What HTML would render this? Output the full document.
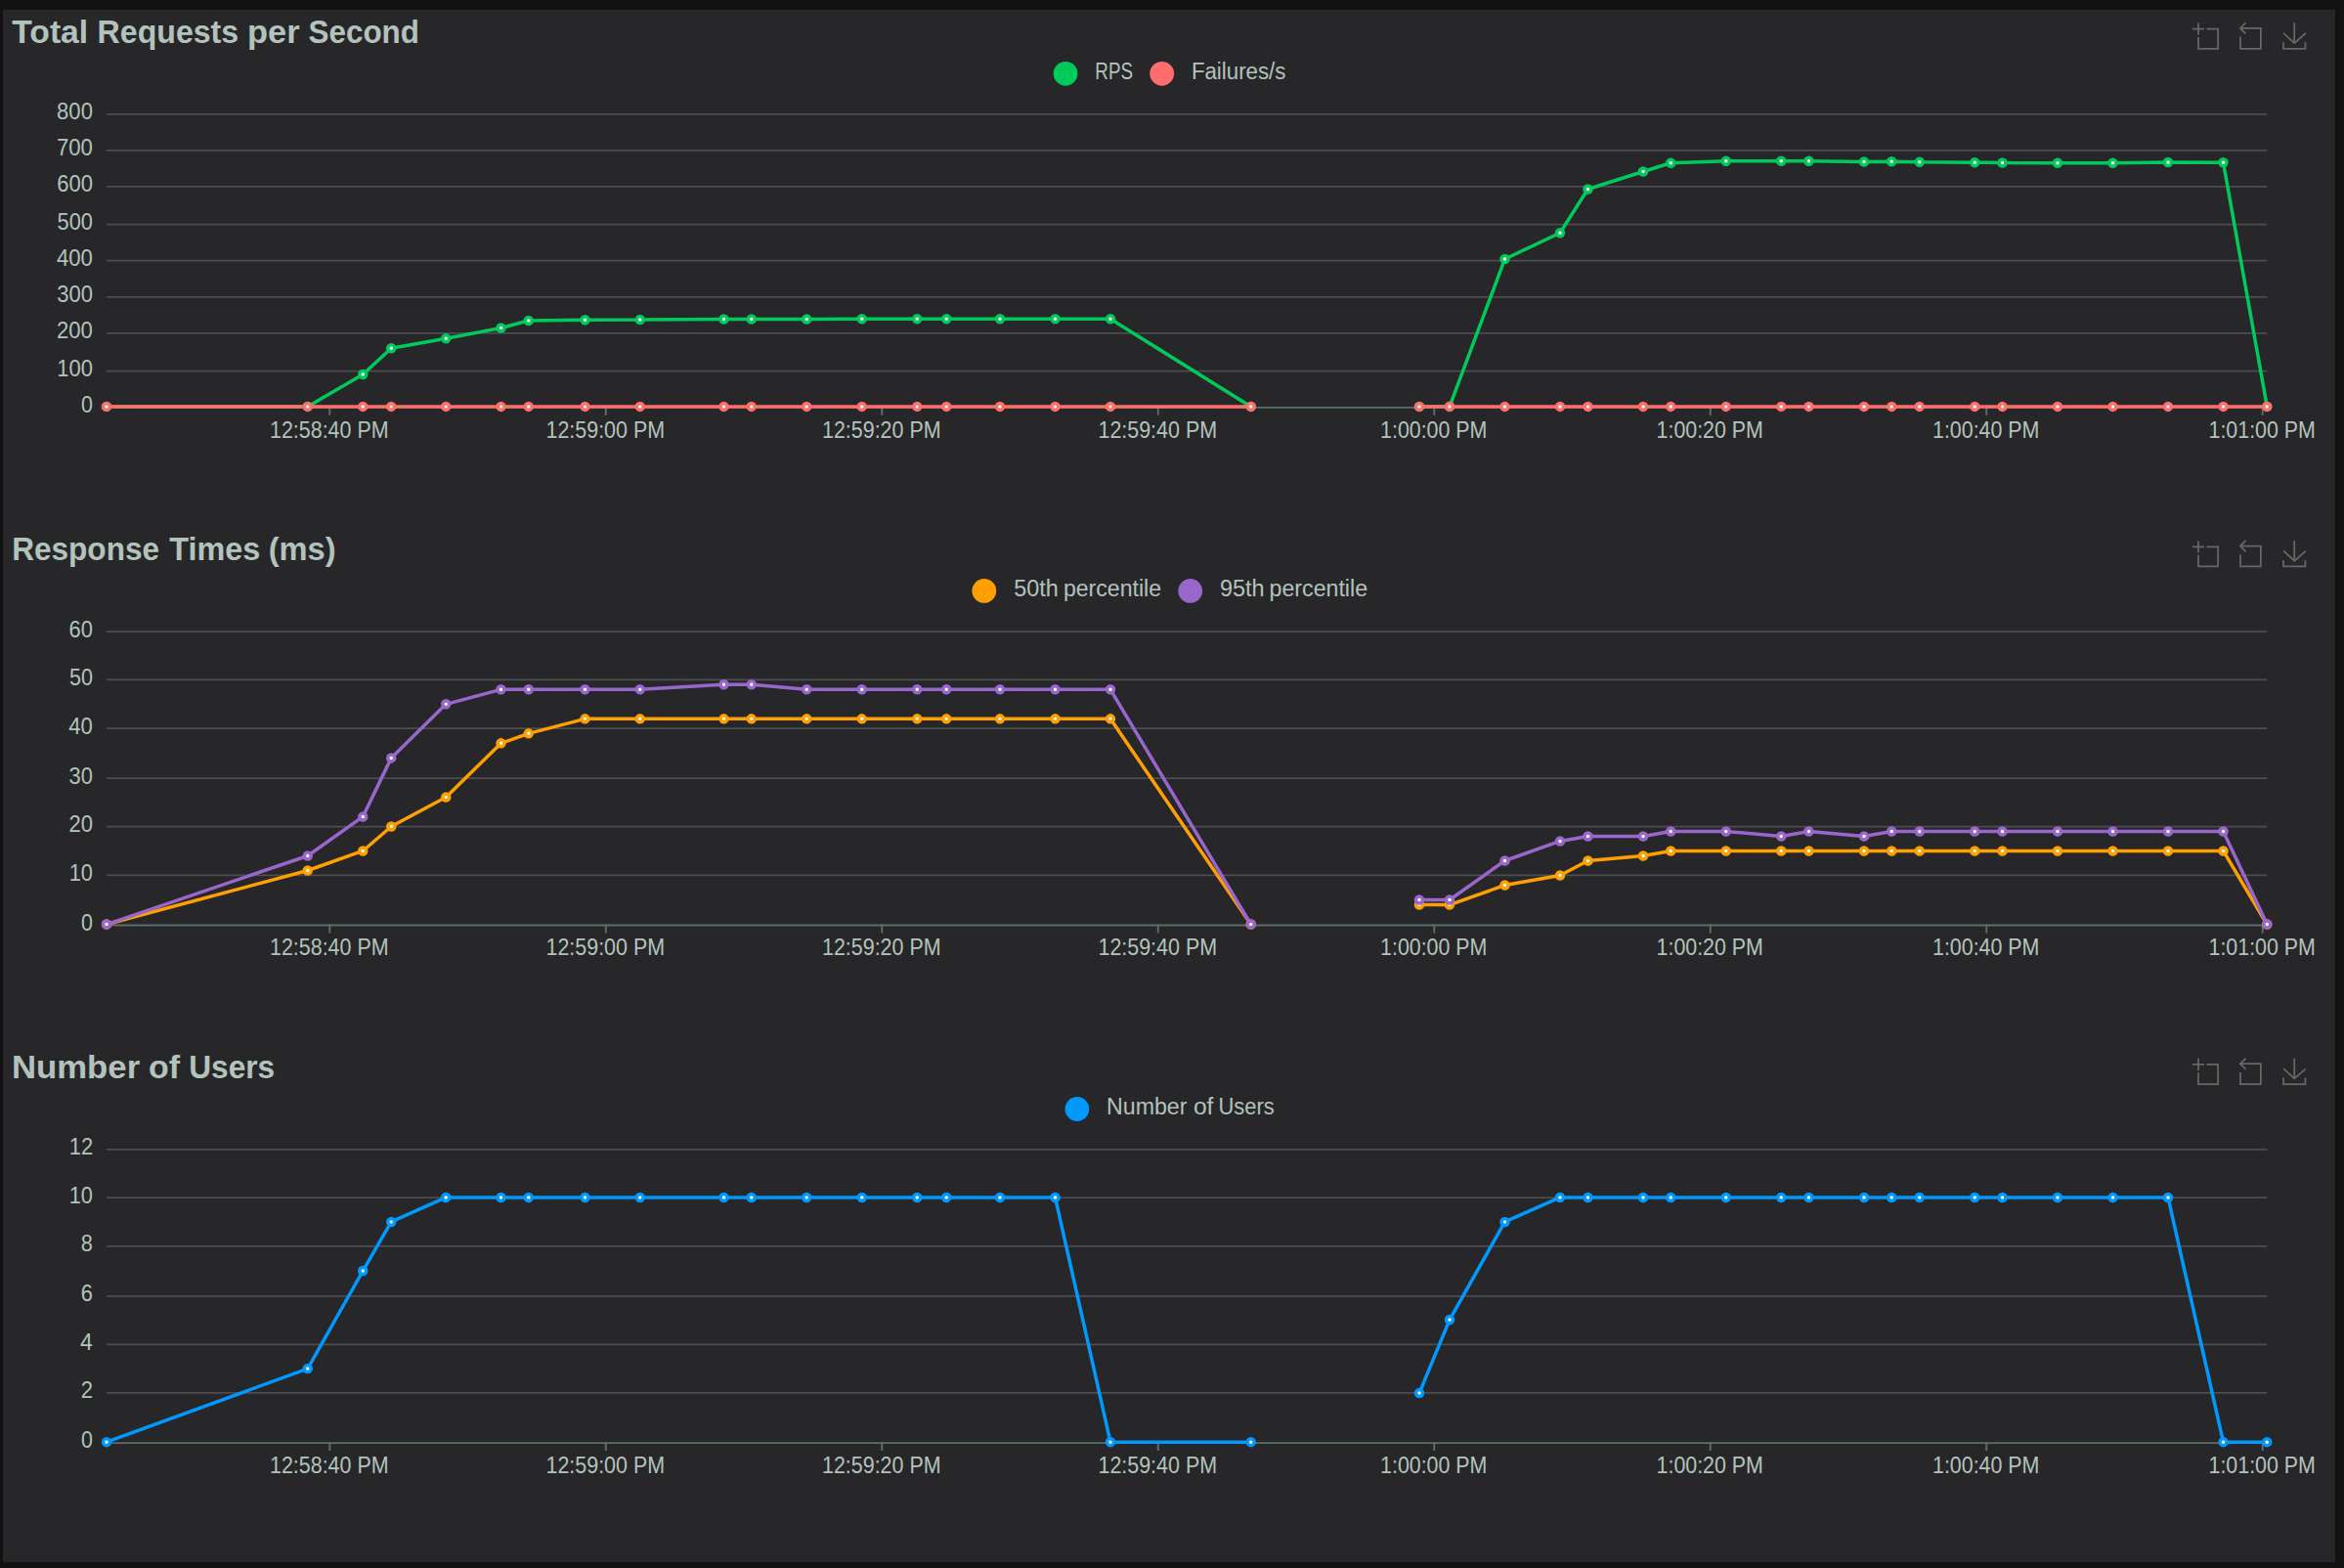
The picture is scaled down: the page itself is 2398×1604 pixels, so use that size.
<!DOCTYPE html>
<html lang="en">
<head>
<meta charset="utf-8">
<title>Locust Charts</title>
<style>
html,body{margin:0;padding:0;background:#121212;}
body{width:2398px;height:1604px;position:relative;}
.panel{position:absolute;left:3px;top:10px;width:2386px;height:1588px;background:#27272a;}
.chart{position:absolute;left:0;width:2386px;margin:0;}
.chart svg{display:block;overflow:visible;}
text{font-family:"Liberation Sans", sans-serif;fill:#b3c3bc;font-size:23.3px;}
.t{font-size:32.7px;font-weight:bold;}
.g{stroke:#4c4c52;stroke-width:1.75;fill:none;}
.a{stroke:#5b6f66;stroke-width:1.9;fill:none;}
.l{fill:none;stroke-width:3.5;stroke-linejoin:bevel;stroke-linecap:butt;}
.p{fill:#fff;stroke-width:3.5;}
.i{fill:none;stroke:#676767;stroke-linecap:butt;stroke-linejoin:miter;}
</style>
</head>
<body>
<main class="panel">
<section class="chart" id="chart1" style="top:0px;height:530px">
<svg width="2386" height="530" viewBox="3 10 2386 530">
<text class="t" y="44.3"><tspan x="12.3" textLength="77.89" lengthAdjust="spacingAndGlyphs">Total</tspan> <tspan x="99.59" textLength="144.61" lengthAdjust="spacingAndGlyphs">Requests</tspan> <tspan x="253.05" textLength="53.54" lengthAdjust="spacingAndGlyphs">per</tspan> <tspan x="315.61" textLength="113.3" lengthAdjust="spacingAndGlyphs">Second</tspan></text>
<g class="i" transform="translate(2242.85 23.5) scale(0.4526)" stroke-width="3.87"><path d="M0,13.5h26.9 M13.5,26.9V0 M32.1,13.5H58V58H13.5 V32.1"/></g>
<g class="i" transform="translate(2287.18 22.6) scale(0.468)" stroke-width="3.74"><path d="M22,1.4L9.9,13.5l12.3,12.3 M10.3,13.5H54.9v44.6 H10.3v-26"/></g>
<g class="i" transform="translate(2333.9 23.35) scale(0.456)" stroke-width="3.84"><path d="M4.7,22.9L29.3,45.5L54.7,23.4M4.6,43.6L4.6,58L53.8,58L53.8,43.6M29.2,45.1L29.2,0"/></g>
<circle cx="1090.1" cy="75.3" r="12.4" fill="#00ca5a"/>
<text y="80.6"><tspan x="1120.37" textLength="38.67" lengthAdjust="spacingAndGlyphs">RPS</tspan></text>
<circle cx="1188.7" cy="75.3" r="12.4" fill="#ff6d6d"/>
<text y="80.6"><tspan x="1218.88" textLength="96.53" lengthAdjust="spacingAndGlyphs">Failures/s</tspan></text>
<path class="g" d="M109 116.75H2319.25M109 153.75H2319.25M109 190.75H2319.25M109 229.5H2319.25M109 266.5H2319.25M109 303.75H2319.25M109 340.75H2319.25M109 379.5H2319.25"/>
<path class="a" d="M109 416.9H2319.25"/>
<path class="a" d="M337.3 416v8.8M619.79 416v8.8M902.28 416v8.8M1184.77 416v8.8M1467.26 416v8.8M1749.75 416v8.8M2032.24 416v8.8M2314.73 416v8.8"/>
<text x="58.12" y="122.45" textLength="36.79" lengthAdjust="spacingAndGlyphs">800</text>
<text x="57.91" y="159.45" textLength="37" lengthAdjust="spacingAndGlyphs">700</text>
<text x="58.13" y="196.45" textLength="36.79" lengthAdjust="spacingAndGlyphs">600</text>
<text x="58.53" y="235.2" textLength="36.37" lengthAdjust="spacingAndGlyphs">500</text>
<text x="57.97" y="272.2" textLength="36.94" lengthAdjust="spacingAndGlyphs">400</text>
<text x="58.21" y="309.45" textLength="36.7" lengthAdjust="spacingAndGlyphs">300</text>
<text x="58.02" y="346.45" textLength="36.89" lengthAdjust="spacingAndGlyphs">200</text>
<text x="58.29" y="385.2" textLength="36.62" lengthAdjust="spacingAndGlyphs">100</text>
<text x="82.97" y="422.2" textLength="11.92" lengthAdjust="spacingAndGlyphs">0</text>
<text x="275.99" y="447.6" textLength="121.62" lengthAdjust="spacingAndGlyphs">12:58:40 PM</text>
<text x="558.48" y="447.6" textLength="121.62" lengthAdjust="spacingAndGlyphs">12:59:00 PM</text>
<text x="840.97" y="447.6" textLength="121.62" lengthAdjust="spacingAndGlyphs">12:59:20 PM</text>
<text x="1123.46" y="447.6" textLength="121.62" lengthAdjust="spacingAndGlyphs">12:59:40 PM</text>
<text x="1412.06" y="447.6" textLength="109.4" lengthAdjust="spacingAndGlyphs">1:00:00 PM</text>
<text x="1694.55" y="447.6" textLength="109.4" lengthAdjust="spacingAndGlyphs">1:00:20 PM</text>
<text x="1977.04" y="447.6" textLength="109.4" lengthAdjust="spacingAndGlyphs">1:00:40 PM</text>
<text x="2259.53" y="447.6" textLength="109.4" lengthAdjust="spacingAndGlyphs">1:01:00 PM</text>
<polyline class="l" stroke="#00ca5a" points="109,415.9 314.75,415.9 371.25,383 400.25,356.25 456.25,346.25 512.5,335.5 540.75,328 598.5,327.25 654.75,327 740.5,326.5 768.75,326.5 825.25,326.5 881.75,326.25 938.25,326.25 968.25,326.25 1023,326.25 1079.5,326.25 1136,326.25 1279.75,415.9"/>
<polyline class="l" stroke="#00ca5a" points="1452,415.9 1483,415.9 1539.5,265 1596,238.25 1624.5,193.5 1681,175.5 1709.25,166.75 1765.75,164.75 1822.25,164.75 1850.5,164.75 1907,165.5 1935.25,165.25 1963.75,165.75 2020.25,166.25 2048.5,166.5 2105,166.75 2161.5,166.75 2218,166 2274.5,166.25 2319.25,415.9"/>
<polyline class="l" stroke="#ff6d6d" points="109,415.9 314.75,415.9 371.25,415.9 400.25,415.9 456.25,415.9 512.5,415.9 540.75,415.9 598.5,415.9 654.75,415.9 740.5,415.9 768.75,415.9 825.25,415.9 881.75,415.9 938.25,415.9 968.25,415.9 1023,415.9 1079.5,415.9 1136,415.9 1279.75,415.9"/>
<polyline class="l" stroke="#ff6d6d" points="1452,415.9 1483,415.9 1539.5,415.9 1596,415.9 1624.5,415.9 1681,415.9 1709.25,415.9 1765.75,415.9 1822.25,415.9 1850.5,415.9 1907,415.9 1935.25,415.9 1963.75,415.9 2020.25,415.9 2048.5,415.9 2105,415.9 2161.5,415.9 2218,415.9 2274.5,415.9 2319.25,415.9"/>
<g class="p" stroke="#00ca5a"><circle cx="109" cy="415.9" r="3.5"/><circle cx="314.75" cy="415.9" r="3.5"/><circle cx="371.25" cy="383" r="3.5"/><circle cx="400.25" cy="356.25" r="3.5"/><circle cx="456.25" cy="346.25" r="3.5"/><circle cx="512.5" cy="335.5" r="3.5"/><circle cx="540.75" cy="328" r="3.5"/><circle cx="598.5" cy="327.25" r="3.5"/><circle cx="654.75" cy="327" r="3.5"/><circle cx="740.5" cy="326.5" r="3.5"/><circle cx="768.75" cy="326.5" r="3.5"/><circle cx="825.25" cy="326.5" r="3.5"/><circle cx="881.75" cy="326.25" r="3.5"/><circle cx="938.25" cy="326.25" r="3.5"/><circle cx="968.25" cy="326.25" r="3.5"/><circle cx="1023" cy="326.25" r="3.5"/><circle cx="1079.5" cy="326.25" r="3.5"/><circle cx="1136" cy="326.25" r="3.5"/><circle cx="1279.75" cy="415.9" r="3.5"/><circle cx="1452" cy="415.9" r="3.5"/><circle cx="1483" cy="415.9" r="3.5"/><circle cx="1539.5" cy="265" r="3.5"/><circle cx="1596" cy="238.25" r="3.5"/><circle cx="1624.5" cy="193.5" r="3.5"/><circle cx="1681" cy="175.5" r="3.5"/><circle cx="1709.25" cy="166.75" r="3.5"/><circle cx="1765.75" cy="164.75" r="3.5"/><circle cx="1822.25" cy="164.75" r="3.5"/><circle cx="1850.5" cy="164.75" r="3.5"/><circle cx="1907" cy="165.5" r="3.5"/><circle cx="1935.25" cy="165.25" r="3.5"/><circle cx="1963.75" cy="165.75" r="3.5"/><circle cx="2020.25" cy="166.25" r="3.5"/><circle cx="2048.5" cy="166.5" r="3.5"/><circle cx="2105" cy="166.75" r="3.5"/><circle cx="2161.5" cy="166.75" r="3.5"/><circle cx="2218" cy="166" r="3.5"/><circle cx="2274.5" cy="166.25" r="3.5"/><circle cx="2319.25" cy="415.9" r="3.5"/></g>
<g class="p" stroke="#ff6d6d"><circle cx="109" cy="415.9" r="3.5"/><circle cx="314.75" cy="415.9" r="3.5"/><circle cx="371.25" cy="415.9" r="3.5"/><circle cx="400.25" cy="415.9" r="3.5"/><circle cx="456.25" cy="415.9" r="3.5"/><circle cx="512.5" cy="415.9" r="3.5"/><circle cx="540.75" cy="415.9" r="3.5"/><circle cx="598.5" cy="415.9" r="3.5"/><circle cx="654.75" cy="415.9" r="3.5"/><circle cx="740.5" cy="415.9" r="3.5"/><circle cx="768.75" cy="415.9" r="3.5"/><circle cx="825.25" cy="415.9" r="3.5"/><circle cx="881.75" cy="415.9" r="3.5"/><circle cx="938.25" cy="415.9" r="3.5"/><circle cx="968.25" cy="415.9" r="3.5"/><circle cx="1023" cy="415.9" r="3.5"/><circle cx="1079.5" cy="415.9" r="3.5"/><circle cx="1136" cy="415.9" r="3.5"/><circle cx="1279.75" cy="415.9" r="3.5"/><circle cx="1452" cy="415.9" r="3.5"/><circle cx="1483" cy="415.9" r="3.5"/><circle cx="1539.5" cy="415.9" r="3.5"/><circle cx="1596" cy="415.9" r="3.5"/><circle cx="1624.5" cy="415.9" r="3.5"/><circle cx="1681" cy="415.9" r="3.5"/><circle cx="1709.25" cy="415.9" r="3.5"/><circle cx="1765.75" cy="415.9" r="3.5"/><circle cx="1822.25" cy="415.9" r="3.5"/><circle cx="1850.5" cy="415.9" r="3.5"/><circle cx="1907" cy="415.9" r="3.5"/><circle cx="1935.25" cy="415.9" r="3.5"/><circle cx="1963.75" cy="415.9" r="3.5"/><circle cx="2020.25" cy="415.9" r="3.5"/><circle cx="2048.5" cy="415.9" r="3.5"/><circle cx="2105" cy="415.9" r="3.5"/><circle cx="2161.5" cy="415.9" r="3.5"/><circle cx="2218" cy="415.9" r="3.5"/><circle cx="2274.5" cy="415.9" r="3.5"/><circle cx="2319.25" cy="415.9" r="3.5"/></g>
</svg>
</section>
<section class="chart" id="chart2" style="top:530px;height:529px">
<svg width="2386" height="529" viewBox="3 540 2386 529">
<text class="t" y="572.9"><tspan x="12.13" textLength="150.96" lengthAdjust="spacingAndGlyphs">Response</tspan> <tspan x="173.2" textLength="93.11" lengthAdjust="spacingAndGlyphs">Times</tspan> <tspan x="274.67" textLength="68.91" lengthAdjust="spacingAndGlyphs">(ms)</tspan></text>
<g class="i" transform="translate(2242.85 553.15) scale(0.4526)" stroke-width="3.87"><path d="M0,13.5h26.9 M13.5,26.9V0 M32.1,13.5H58V58H13.5 V32.1"/></g>
<g class="i" transform="translate(2287.18 552.25) scale(0.468)" stroke-width="3.74"><path d="M22,1.4L9.9,13.5l12.3,12.3 M10.3,13.5H54.9v44.6 H10.3v-26"/></g>
<g class="i" transform="translate(2333.9 553) scale(0.456)" stroke-width="3.84"><path d="M4.7,22.9L29.3,45.5L54.7,23.4M4.6,43.6L4.6,58L53.8,58L53.8,43.6M29.2,45.1L29.2,0"/></g>
<circle cx="1006.8" cy="604.4" r="12.4" fill="#ff9f00"/>
<text y="609.7"><tspan x="1037.3" textLength="45.57" lengthAdjust="spacingAndGlyphs">50th</tspan> <tspan x="1087.91" textLength="100.14" lengthAdjust="spacingAndGlyphs">percentile</tspan></text>
<circle cx="1217.7" cy="604.4" r="12.4" fill="#9966cc"/>
<text y="609.7"><tspan x="1247.99" textLength="45.68" lengthAdjust="spacingAndGlyphs">95th</tspan> <tspan x="1298.61" textLength="100.44" lengthAdjust="spacingAndGlyphs">percentile</tspan></text>
<path class="g" d="M109 646H2319.25M109 695.25H2319.25M109 745H2319.25M109 796H2319.25M109 845.5H2319.25M109 895.25H2319.25"/>
<path class="a" d="M109 946.5H2319.25"/>
<path class="a" d="M337.3 945.6v8.8M619.79 945.6v8.8M902.28 945.6v8.8M1184.77 945.6v8.8M1467.26 945.6v8.8M1749.75 945.6v8.8M2032.24 945.6v8.8M2314.73 945.6v8.8"/>
<text x="70.5" y="651.7" textLength="24.41" lengthAdjust="spacingAndGlyphs">60</text>
<text x="70.91" y="700.95" textLength="23.99" lengthAdjust="spacingAndGlyphs">50</text>
<text x="70.34" y="750.7" textLength="24.57" lengthAdjust="spacingAndGlyphs">40</text>
<text x="70.58" y="801.7" textLength="24.33" lengthAdjust="spacingAndGlyphs">30</text>
<text x="70.39" y="851.2" textLength="24.52" lengthAdjust="spacingAndGlyphs">20</text>
<text x="70.67" y="900.95" textLength="24.24" lengthAdjust="spacingAndGlyphs">10</text>
<text x="82.97" y="951.8" textLength="11.92" lengthAdjust="spacingAndGlyphs">0</text>
<text x="275.99" y="977.2" textLength="121.62" lengthAdjust="spacingAndGlyphs">12:58:40 PM</text>
<text x="558.48" y="977.2" textLength="121.62" lengthAdjust="spacingAndGlyphs">12:59:00 PM</text>
<text x="840.97" y="977.2" textLength="121.62" lengthAdjust="spacingAndGlyphs">12:59:20 PM</text>
<text x="1123.46" y="977.2" textLength="121.62" lengthAdjust="spacingAndGlyphs">12:59:40 PM</text>
<text x="1412.06" y="977.2" textLength="109.4" lengthAdjust="spacingAndGlyphs">1:00:00 PM</text>
<text x="1694.55" y="977.2" textLength="109.4" lengthAdjust="spacingAndGlyphs">1:00:20 PM</text>
<text x="1977.04" y="977.2" textLength="109.4" lengthAdjust="spacingAndGlyphs">1:00:40 PM</text>
<text x="2259.53" y="977.2" textLength="109.4" lengthAdjust="spacingAndGlyphs">1:01:00 PM</text>
<polyline class="l" stroke="#ff9f00" points="109,945.55 314.75,890.5 371.25,870.47 400.25,845.45 456.25,815.42 512.5,760.37 540.75,750.36 598.5,735.34 654.75,735.34 740.5,735.34 768.75,735.34 825.25,735.34 881.75,735.34 938.25,735.34 968.25,735.34 1023,735.34 1079.5,735.34 1136,735.34 1279.75,945.55"/>
<polyline class="l" stroke="#ff9f00" points="1452,925.53 1483,925.53 1539.5,905.51 1596,895.5 1624.5,880.48 1681,875.48 1709.25,870.47 1765.75,870.47 1822.25,870.47 1850.5,870.47 1907,870.47 1935.25,870.47 1963.75,870.47 2020.25,870.47 2048.5,870.47 2105,870.47 2161.5,870.47 2218,870.47 2274.5,870.47 2319.25,945.55"/>
<polyline class="l" stroke="#9966cc" points="109,945.55 314.75,875.48 371.25,835.44 400.25,775.38 456.25,720.32 512.5,705.31 540.75,705.31 598.5,705.31 654.75,705.31 740.5,700.3 768.75,700.3 825.25,705.31 881.75,705.31 938.25,705.31 968.25,705.31 1023,705.31 1079.5,705.31 1136,705.31 1279.75,945.55"/>
<polyline class="l" stroke="#9966cc" points="1452,920.52 1483,920.52 1539.5,880.48 1596,860.46 1624.5,855.46 1681,855.46 1709.25,850.45 1765.75,850.45 1822.25,855.46 1850.5,850.45 1907,855.46 1935.25,850.45 1963.75,850.45 2020.25,850.45 2048.5,850.45 2105,850.45 2161.5,850.45 2218,850.45 2274.5,850.45 2319.25,945.55"/>
<g class="p" stroke="#ff9f00"><circle cx="109" cy="945.55" r="3.5"/><circle cx="314.75" cy="890.5" r="3.5"/><circle cx="371.25" cy="870.47" r="3.5"/><circle cx="400.25" cy="845.45" r="3.5"/><circle cx="456.25" cy="815.42" r="3.5"/><circle cx="512.5" cy="760.37" r="3.5"/><circle cx="540.75" cy="750.36" r="3.5"/><circle cx="598.5" cy="735.34" r="3.5"/><circle cx="654.75" cy="735.34" r="3.5"/><circle cx="740.5" cy="735.34" r="3.5"/><circle cx="768.75" cy="735.34" r="3.5"/><circle cx="825.25" cy="735.34" r="3.5"/><circle cx="881.75" cy="735.34" r="3.5"/><circle cx="938.25" cy="735.34" r="3.5"/><circle cx="968.25" cy="735.34" r="3.5"/><circle cx="1023" cy="735.34" r="3.5"/><circle cx="1079.5" cy="735.34" r="3.5"/><circle cx="1136" cy="735.34" r="3.5"/><circle cx="1279.75" cy="945.55" r="3.5"/><circle cx="1452" cy="925.53" r="3.5"/><circle cx="1483" cy="925.53" r="3.5"/><circle cx="1539.5" cy="905.51" r="3.5"/><circle cx="1596" cy="895.5" r="3.5"/><circle cx="1624.5" cy="880.48" r="3.5"/><circle cx="1681" cy="875.48" r="3.5"/><circle cx="1709.25" cy="870.47" r="3.5"/><circle cx="1765.75" cy="870.47" r="3.5"/><circle cx="1822.25" cy="870.47" r="3.5"/><circle cx="1850.5" cy="870.47" r="3.5"/><circle cx="1907" cy="870.47" r="3.5"/><circle cx="1935.25" cy="870.47" r="3.5"/><circle cx="1963.75" cy="870.47" r="3.5"/><circle cx="2020.25" cy="870.47" r="3.5"/><circle cx="2048.5" cy="870.47" r="3.5"/><circle cx="2105" cy="870.47" r="3.5"/><circle cx="2161.5" cy="870.47" r="3.5"/><circle cx="2218" cy="870.47" r="3.5"/><circle cx="2274.5" cy="870.47" r="3.5"/><circle cx="2319.25" cy="945.55" r="3.5"/></g>
<g class="p" stroke="#9966cc"><circle cx="109" cy="945.55" r="3.5"/><circle cx="314.75" cy="875.48" r="3.5"/><circle cx="371.25" cy="835.44" r="3.5"/><circle cx="400.25" cy="775.38" r="3.5"/><circle cx="456.25" cy="720.32" r="3.5"/><circle cx="512.5" cy="705.31" r="3.5"/><circle cx="540.75" cy="705.31" r="3.5"/><circle cx="598.5" cy="705.31" r="3.5"/><circle cx="654.75" cy="705.31" r="3.5"/><circle cx="740.5" cy="700.3" r="3.5"/><circle cx="768.75" cy="700.3" r="3.5"/><circle cx="825.25" cy="705.31" r="3.5"/><circle cx="881.75" cy="705.31" r="3.5"/><circle cx="938.25" cy="705.31" r="3.5"/><circle cx="968.25" cy="705.31" r="3.5"/><circle cx="1023" cy="705.31" r="3.5"/><circle cx="1079.5" cy="705.31" r="3.5"/><circle cx="1136" cy="705.31" r="3.5"/><circle cx="1279.75" cy="945.55" r="3.5"/><circle cx="1452" cy="920.52" r="3.5"/><circle cx="1483" cy="920.52" r="3.5"/><circle cx="1539.5" cy="880.48" r="3.5"/><circle cx="1596" cy="860.46" r="3.5"/><circle cx="1624.5" cy="855.46" r="3.5"/><circle cx="1681" cy="855.46" r="3.5"/><circle cx="1709.25" cy="850.45" r="3.5"/><circle cx="1765.75" cy="850.45" r="3.5"/><circle cx="1822.25" cy="855.46" r="3.5"/><circle cx="1850.5" cy="850.45" r="3.5"/><circle cx="1907" cy="855.46" r="3.5"/><circle cx="1935.25" cy="850.45" r="3.5"/><circle cx="1963.75" cy="850.45" r="3.5"/><circle cx="2020.25" cy="850.45" r="3.5"/><circle cx="2048.5" cy="850.45" r="3.5"/><circle cx="2105" cy="850.45" r="3.5"/><circle cx="2161.5" cy="850.45" r="3.5"/><circle cx="2218" cy="850.45" r="3.5"/><circle cx="2274.5" cy="850.45" r="3.5"/><circle cx="2319.25" cy="945.55" r="3.5"/></g>
</svg>
</section>
<section class="chart" id="chart3" style="top:1059px;height:529px">
<svg width="2386" height="529" viewBox="3 1069 2386 529">
<text class="t" y="1102.9"><tspan x="11.93" textLength="131.26" lengthAdjust="spacingAndGlyphs">Number</tspan> <tspan x="152.04" textLength="32" lengthAdjust="spacingAndGlyphs">of</tspan> <tspan x="193.22" textLength="87.97" lengthAdjust="spacingAndGlyphs">Users</tspan></text>
<g class="i" transform="translate(2242.85 1082.8) scale(0.4526)" stroke-width="3.87"><path d="M0,13.5h26.9 M13.5,26.9V0 M32.1,13.5H58V58H13.5 V32.1"/></g>
<g class="i" transform="translate(2287.18 1081.9) scale(0.468)" stroke-width="3.74"><path d="M22,1.4L9.9,13.5l12.3,12.3 M10.3,13.5H54.9v44.6 H10.3v-26"/></g>
<g class="i" transform="translate(2333.9 1082.65) scale(0.456)" stroke-width="3.84"><path d="M4.7,22.9L29.3,45.5L54.7,23.4M4.6,43.6L4.6,58L53.8,58L53.8,43.6M29.2,45.1L29.2,0"/></g>
<circle cx="1101.9" cy="1134.5" r="12.4" fill="#0099ff"/>
<text y="1139.8"><tspan x="1132.01" textLength="82.45" lengthAdjust="spacingAndGlyphs">Number</tspan> <tspan x="1220.95" textLength="20.52" lengthAdjust="spacingAndGlyphs">of</tspan> <tspan x="1246.5" textLength="57.2" lengthAdjust="spacingAndGlyphs">Users</tspan></text>
<path class="g" d="M109 1175.75H2319.25M109 1225H2319.25M109 1274.75H2319.25M109 1325.75H2319.25M109 1375.25H2319.25M109 1424.75H2319.25"/>
<path class="a" d="M109 1476.1H2319.25"/>
<path class="a" d="M337.3 1475.2v8.8M619.79 1475.2v8.8M902.28 1475.2v8.8M1184.77 1475.2v8.8M1467.26 1475.2v8.8M1749.75 1475.2v8.8M2032.24 1475.2v8.8M2314.73 1475.2v8.8"/>
<text x="70.76" y="1181.45" textLength="24.44" lengthAdjust="spacingAndGlyphs">12</text>
<text x="70.67" y="1230.7" textLength="24.24" lengthAdjust="spacingAndGlyphs">10</text>
<text x="82.86" y="1280.45" textLength="12.13" lengthAdjust="spacingAndGlyphs">8</text>
<text x="82.87" y="1331.45" textLength="12.12" lengthAdjust="spacingAndGlyphs">6</text>
<text x="81.97" y="1380.95" textLength="12.78" lengthAdjust="spacingAndGlyphs">4</text>
<text x="82.85" y="1430.45" textLength="12.35" lengthAdjust="spacingAndGlyphs">2</text>
<text x="82.97" y="1481.4" textLength="11.92" lengthAdjust="spacingAndGlyphs">0</text>
<text x="275.99" y="1506.8" textLength="121.62" lengthAdjust="spacingAndGlyphs">12:58:40 PM</text>
<text x="558.48" y="1506.8" textLength="121.62" lengthAdjust="spacingAndGlyphs">12:59:00 PM</text>
<text x="840.97" y="1506.8" textLength="121.62" lengthAdjust="spacingAndGlyphs">12:59:20 PM</text>
<text x="1123.46" y="1506.8" textLength="121.62" lengthAdjust="spacingAndGlyphs">12:59:40 PM</text>
<text x="1412.06" y="1506.8" textLength="109.4" lengthAdjust="spacingAndGlyphs">1:00:00 PM</text>
<text x="1694.55" y="1506.8" textLength="109.4" lengthAdjust="spacingAndGlyphs">1:00:20 PM</text>
<text x="1977.04" y="1506.8" textLength="109.4" lengthAdjust="spacingAndGlyphs">1:00:40 PM</text>
<text x="2259.53" y="1506.8" textLength="109.4" lengthAdjust="spacingAndGlyphs">1:01:00 PM</text>
<polyline class="l" stroke="#0099ff" points="109,1475.15 314.75,1400.09 371.25,1300.01 400.25,1249.97 456.25,1224.95 512.5,1224.95 540.75,1224.95 598.5,1224.95 654.75,1224.95 740.5,1224.95 768.75,1224.95 825.25,1224.95 881.75,1224.95 938.25,1224.95 968.25,1224.95 1023,1224.95 1079.5,1224.95 1136,1475.15 1279.75,1475.15"/>
<polyline class="l" stroke="#0099ff" points="1452,1425.11 1483,1350.05 1539.5,1249.97 1596,1224.95 1624.5,1224.95 1681,1224.95 1709.25,1224.95 1765.75,1224.95 1822.25,1224.95 1850.5,1224.95 1907,1224.95 1935.25,1224.95 1963.75,1224.95 2020.25,1224.95 2048.5,1224.95 2105,1224.95 2161.5,1224.95 2218,1224.95 2274.5,1475.15 2319.25,1475.15"/>
<g class="p" stroke="#0099ff"><circle cx="109" cy="1475.15" r="3.5"/><circle cx="314.75" cy="1400.09" r="3.5"/><circle cx="371.25" cy="1300.01" r="3.5"/><circle cx="400.25" cy="1249.97" r="3.5"/><circle cx="456.25" cy="1224.95" r="3.5"/><circle cx="512.5" cy="1224.95" r="3.5"/><circle cx="540.75" cy="1224.95" r="3.5"/><circle cx="598.5" cy="1224.95" r="3.5"/><circle cx="654.75" cy="1224.95" r="3.5"/><circle cx="740.5" cy="1224.95" r="3.5"/><circle cx="768.75" cy="1224.95" r="3.5"/><circle cx="825.25" cy="1224.95" r="3.5"/><circle cx="881.75" cy="1224.95" r="3.5"/><circle cx="938.25" cy="1224.95" r="3.5"/><circle cx="968.25" cy="1224.95" r="3.5"/><circle cx="1023" cy="1224.95" r="3.5"/><circle cx="1079.5" cy="1224.95" r="3.5"/><circle cx="1136" cy="1475.15" r="3.5"/><circle cx="1279.75" cy="1475.15" r="3.5"/><circle cx="1452" cy="1425.11" r="3.5"/><circle cx="1483" cy="1350.05" r="3.5"/><circle cx="1539.5" cy="1249.97" r="3.5"/><circle cx="1596" cy="1224.95" r="3.5"/><circle cx="1624.5" cy="1224.95" r="3.5"/><circle cx="1681" cy="1224.95" r="3.5"/><circle cx="1709.25" cy="1224.95" r="3.5"/><circle cx="1765.75" cy="1224.95" r="3.5"/><circle cx="1822.25" cy="1224.95" r="3.5"/><circle cx="1850.5" cy="1224.95" r="3.5"/><circle cx="1907" cy="1224.95" r="3.5"/><circle cx="1935.25" cy="1224.95" r="3.5"/><circle cx="1963.75" cy="1224.95" r="3.5"/><circle cx="2020.25" cy="1224.95" r="3.5"/><circle cx="2048.5" cy="1224.95" r="3.5"/><circle cx="2105" cy="1224.95" r="3.5"/><circle cx="2161.5" cy="1224.95" r="3.5"/><circle cx="2218" cy="1224.95" r="3.5"/><circle cx="2274.5" cy="1475.15" r="3.5"/><circle cx="2319.25" cy="1475.15" r="3.5"/></g>
</svg>
</section>
</main>
</body>
</html>
